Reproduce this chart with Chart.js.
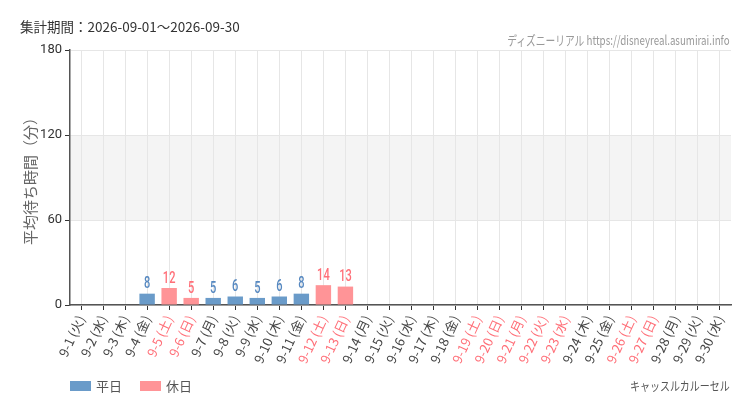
<!DOCTYPE html>
<html lang="ja">
<head>
<meta charset="utf-8">
<script src="https://cdn.jsdelivr.net/npm/chart.js@4/dist/chart.umd.min.js"></script>
<style>
  body { margin: 0; background: #fff; font-family: "Noto Sans CJK JP", "Noto Sans", sans-serif; }
  #wrap { position: relative; width: 750px; height: 410px; }
  #chart { position: absolute; left: 0; top: 0; }
  .txt { position: absolute; white-space: nowrap; }
  #period { left: 20px; top: 16px; font-size: 13.5px; color: #333; }
  #site { right: 20px; top: 30px; font-size: 13px; color: #999; transform: scaleX(0.75); transform-origin: right center; }
  #attraction { right: 20px; top: 376px; font-size: 12.5px; color: #555; transform: scaleX(0.8); transform-origin: right center; }
  #legend { left: 70px; top: 376px; font-size: 13px; color: #555; display: flex; align-items: center; }
  #legend span.box { display: inline-block; width: 21px; height: 10px; margin-right: 5px; }
  #legend span.item { display: flex; align-items: center; margin-right: 18px; }
</style>
</head>
<body>
<div id="wrap">
  <canvas id="chart" width="750" height="410"></canvas>
  <div class="txt" id="period">集計期間：2026-09-01～2026-09-30</div>
  <div class="txt" id="site">ディズニーリアル https://disneyreal.asumirai.info</div>
  <div class="txt" id="attraction">キャッスルカルーセル</div>
  <div class="txt" id="legend"></div>
</div>
<script>
const dates = ['9-1','9-2','9-3','9-4','9-5','9-6','9-7','9-8','9-9','9-10',
  '9-11','9-12','9-13','9-14','9-15','9-16','9-17','9-18','9-19','9-20',
  '9-21','9-22','9-23','9-24','9-25','9-26','9-27','9-28','9-29','9-30'];
const weekdays = ['火','水','木','金','土','日','月','火','水','木',
  '金','土','日','月','火','水','木','金','土','日',
  '月','火','水','木','金','土','日','月','火','水'];
// 1 = 休日 (土日祝)
const holidayFlags = [0,0,0,0,1,1,0,0,0,0, 0,1,1,0,0,0,0,0,1,1, 1,1,1,0,0,1,1,0,0,0];
const waitTimes = [null,null,null,8,12,5,5,6,5,6, 8,14,13,null,null,null,null,null,null,null,
  null,null,null,null,null,null,null,null,null,null];
const yTicks = [0, 60, 120, 180];

const weekdayData = waitTimes.map((v, i) => holidayFlags[i] ? null : v);
const holidayData = waitTimes.map((v, i) => holidayFlags[i] ? v : null);
const labels = dates.map((d, i) => d + ' (' + weekdays[i] + ')');

const COLORS = {
    weekday: '#6a9bc9',
    holiday: '#ff9497',
    weekdayText: '#5688c0',
    holidayText: '#ff6f78'
};

// band between 60 and 120
const bandPlugin = {
    id: 'band',
    beforeDraw(chart) {
        const { ctx, chartArea, scales } = chart;
        const top = scales.y.getPixelForValue(120);
        const bottom = scales.y.getPixelForValue(60);
        ctx.save();
        ctx.fillStyle = '#f4f4f4';
        ctx.fillRect(chartArea.left, top, chartArea.right - chartArea.left, bottom - top);
        ctx.restore();
    }
};

// value labels above the bars
const valueLabels = {
    id: 'valueLabels',
    afterDatasetsDraw(chart) {
        const { ctx } = chart;
        ctx.save();
        ctx.font = '500 17px Roboto';
        ctx.textAlign = 'center';
        ctx.textBaseline = 'bottom';
        chart.data.datasets.forEach((ds, di) => {
            const meta = chart.getDatasetMeta(di);
            meta.data.forEach((bar, i) => {
                const v = ds.data[i];
                if (v === null || v === undefined) return;
                ctx.fillStyle = di === 0 ? COLORS.weekdayText : COLORS.holidayText;
                ctx.save();
                ctx.translate(bar.x, bar.y - 1);
                ctx.scale(0.65, 1);
                ctx.fillText(String(v), 0, 0);
                ctx.restore();
            });
        });
        ctx.restore();
    }
};

const chart = new Chart(document.getElementById('chart'), {
    type: 'bar',
    data: {
        labels: labels,
        datasets: [
            { label: '平日', data: weekdayData, backgroundColor: COLORS.weekday, barPercentage: 0.7, categoryPercentage: 1 },
            { label: '休日', data: holidayData, backgroundColor: COLORS.holiday, barPercentage: 0.7, categoryPercentage: 1 }
        ]
    },
    options: {
        responsive: false,
        animation: false,
        layout: { padding: { top: 50, right: 19, left: 0, bottom: 0 } },
        plugins: { legend: { display: false }, tooltip: { enabled: false } },
        scales: {
            x: {
                stacked: true,
                grid: { offset: false, color: '#e6e6e6', tickColor: '#333', tickLength: 5 },
                border: { color: '#555', width: 1.5 },
                ticks: {
                    minRotation: 65, maxRotation: 65, autoSkip: false,
                    font: { family: 'Noto Sans CJK JP', size: 13 },
                    color: (c) => holidayFlags[c.index] ? COLORS.holidayText : '#444'
                },
                afterFit(scale) { scale.height = 105; }
            },
            y: {
                stacked: true,
                min: 0, max: 180,
                afterBuildTicks(scale) { scale.ticks = yTicks.map(v => ({ value: v })); },
                grid: { color: '#e6e6e6', tickColor: '#333', tickLength: 5 },
                border: { color: '#555', width: 1.5 },
                ticks: { font: { family: 'Roboto', size: 13 }, color: '#333', padding: 3 },
                title: {
                    display: true, text: '平均待ち時間（分）',
                    font: { family: 'Noto Sans CJK JP', size: 15 }, color: '#666',
                    padding: { top: 21, bottom: 0 }
                },
                afterFit(scale) { scale.width = 70; }
            }
        }
    },
    plugins: [bandPlugin, valueLabels]
});

// legend from datasets
const legendEl = document.getElementById('legend');
chart.data.datasets.forEach(ds => {
    const item = document.createElement('span');
    item.className = 'item';
    const box = document.createElement('span');
    box.className = 'box';
    box.style.background = ds.backgroundColor;
    item.appendChild(box);
    item.appendChild(document.createTextNode(ds.label));
    legendEl.appendChild(item);
});
</script>
</body>
</html>
